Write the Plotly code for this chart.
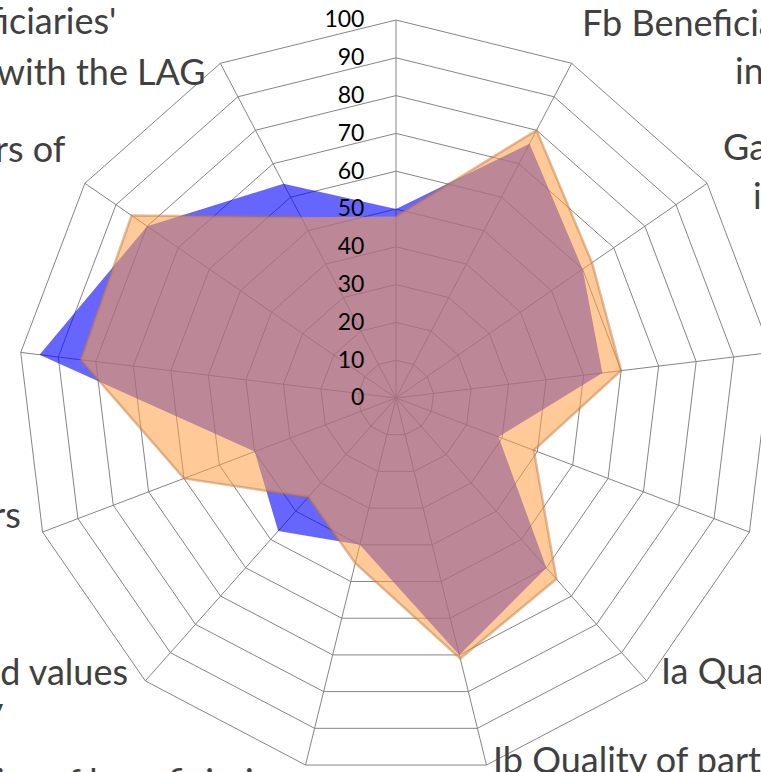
import plotly.graph_objects as go

# ---------------- data ----------------
categories = [
    "Fa Beneficiaries' trust<br>in the LAG",
    "Fb Beneficiaries' participation<br>in LAG activities",
    "Ga Cooperation among actors<br>in the area",
    "Gb Joint initiatives<br>in the area",
    "Ha Innovation<br>in local projects",
    "Ia Quality of LAG management",
    "Ib Quality of partnership",
    "Ic Activities of beneficiaries",
    "Ea Shared values<br>and local identity",
    "Eb Involvement of local actors",
    "Ec Access to information",
    "Da Numbers of<br>LAG members",
    "Db Beneficiaries'<br>satisfaction with the LAG",
]
series_blue = [50, 76, 60, 55, 29, 60, 70, 40, 47, 40, 95, 80, 64]
series_orange = [48, 80, 63, 60, 39, 64, 71, 45, 35, 60, 84, 85, 54]
radial_ticks = [0, 10, 20, 30, 40, 50, 60, 70, 80, 90, 100]

# ---------------- layout geometry (pixels) ----------------
W, H = 774, 776
ML, MT = 18, 20
PW, PH = W - ML, H - MT
LABEL_FONT = 36

# (category index, line index, x px, baseline px, anchor)
label_lines = [
    (0, 0, 396, -80, "center"), (0, 1, 396, -31, "center"),
    (1, 0, 581, 35, "left"), (1, 1, 734, 83, "left"),
    (2, 0, 722, 159, "left"), (2, 1, 752, 208, "left"),
    (3, 0, 800, 330, "left"), (3, 1, 800, 379, "left"),
    (4, 0, 790, 520, "left"), (4, 1, 790, 569, "left"),
    (5, 0, 660, 683, "left"),
    (6, 0, 492, 772, "left"),
    (7, 0, 289, 794, "right"),
    (8, 0, 129, 684, "right"), (8, 1, 5, 722, "right"),
    (9, 0, 22, 527, "right"),
    (10, 0, -12, 360, "right"),
    (11, 0, 67, 161, "right"), (11, 1, -30, 210, "right"),
    (12, 0, 117, 33, "right"), (12, 1, 207, 84, "right"),
]

fig = go.Figure()
fig.add_trace(go.Scatterpolar(
    r=series_blue, theta=categories, mode="lines", fill="toself",
    fillcolor="rgba(0,0,255,0.6)", line=dict(width=0, color="rgba(0,0,255,0)"),
    name="Series 1", hoverinfo="skip"))
fig.add_trace(go.Scatterpolar(
    r=series_orange, theta=categories, mode="lines", fill="toself",
    fillcolor="rgba(255,160,70,0.56)", line=dict(width=2.5, color="rgba(190,115,55,0.45)"),
    name="Series 2", hoverinfo="skip"))

grid = "#858585"
fig.update_layout(
    template="none",
    width=W, height=H,
    margin=dict(l=ML, r=0, t=MT, b=0, pad=0),
    paper_bgcolor="white", plot_bgcolor="white",
    showlegend=False,
    polar=dict(
        domain=dict(x=[0, 1], y=[0, 1]),
        bgcolor="white",
        gridshape="linear",
        angularaxis=dict(
            type="category", categoryorder="array", categoryarray=categories,
            direction="clockwise", rotation=90,
            showgrid=True, gridcolor=grid, gridwidth=1,
            showline=True, linecolor=grid, linewidth=1,
            showticklabels=False, ticks="",
        ),
        radialaxis=dict(
            range=[0, 100], tickvals=radial_ticks, ticktext=[str(v) for v in radial_ticks],
            angle=90, side="counterclockwise", tickangle=90,
            showgrid=True, gridcolor=grid, gridwidth=1,
            showline=False, ticks="outside", ticklen=23, tickcolor="rgba(0,0,0,0)",
            tickfont=dict(family="Lato, Liberation Sans, sans-serif", size=23, color="black"),
        ),
    ),
)

def px_to_paper(x, y):
    return (x - ML) / PW, 1 - (y - MT) / PH

for ci, li, x, base, anchor in label_lines:
    lines = categories[ci].split("<br>")
    if li >= len(lines):
        continue
    px, py = px_to_paper(x, base - 0.36 * LABEL_FONT)
    fig.add_annotation(
        text=lines[li], x=px, y=py, xref="paper", yref="paper",
        xanchor=anchor, yanchor="middle", showarrow=False,
        font=dict(family="Lato, Open Sans, sans-serif", size=LABEL_FONT, color="#404040"),
        borderpad=0,
    )

fig.write_html(
    "out.html",
    config={"displayModeBar": False},
    post_script="document.documentElement.style.overflow='hidden';"
                "document.body.style.margin='0';document.body.style.overflow='hidden';",
)
